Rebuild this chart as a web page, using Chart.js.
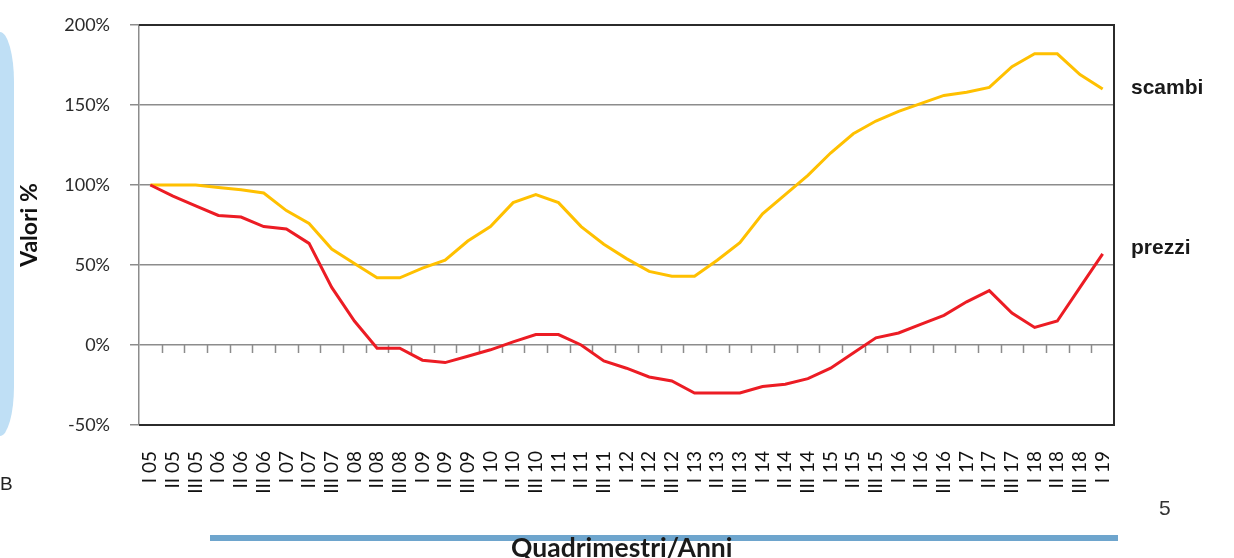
<!DOCTYPE html>
<html>
<head>
<meta charset="utf-8">
<script src="https://cdn.jsdelivr.net/npm/chart.js@4.4.1/dist/chart.umd.min.js"></script>
<style>
  html, body { margin: 0; padding: 0; background: #fff; }
  body { width: 1234px; height: 558px; position: relative; overflow: hidden; }
  #grafico { position: absolute; left: 0; top: 0; }
  .fascia { position: absolute; left: 0; top: 32px; width: 14px; height: 404px;
            background: #bfdff5; border-radius: 0 14px 14px 0 / 0 50px 50px 0; }
  .testo { position: absolute; white-space: nowrap; font-family: "Liberation Sans", Arial, sans-serif; }
  .serie { font-weight: bold; font-size: 21px; color: #1a1a1a; }
  .barra { position: absolute; left: 210px; top: 535px; width: 908px; height: 6px; background: #6ea5cd; }
  .titoloX { position: absolute; left: 511px; top: 531px; font-family: Lato, sans-serif;
             font-weight: bold; font-size: 26.5px; color: #1a1a1a; white-space: nowrap; }
</style>
</head>
<body>
<div class="fascia"></div>
<canvas id="grafico" width="1234" height="558"></canvas>
<div class="testo" style="left:0px; top:473px; font-size:19px; color:#222;">B</div>
<div class="testo serie" style="left:1131px; top:75px;">scambi</div>
<div class="testo serie" style="left:1131px; top:235px;">prezzi</div>
<div class="testo" style="left:1159px; top:496px; font-size:21px; color:#333;">5</div>
<div class="barra"></div>
<div class="titoloX">Quadrimestri/Anni</div>
<script>
const quadrimestri = [
    "I 05", "II 05", "III 05", "I 06", "II 06", "III 06", "I 07", "II 07", "III 07",
    "I 08", "II 08", "III 08", "I 09", "II 09", "III 09", "I 10", "II 10", "III 10",
    "I 11", "II 11", "III 11", "I 12", "II 12", "III 12", "I 13", "II 13", "III 13",
    "I 14", "II 14", "III 14", "I 15", "II 15", "III 15", "I 16", "II 16", "III 16",
    "I 17", "II 17", "III 17", "I 18", "II 18", "III 18", "I 19"
];

// valori in % rispetto al I quadrimestre 2005
const scambi = [
    100, 100, 100, 98.5, 97, 95, 84, 76, 60,
    51, 42, 42, 48, 53, 65, 74, 89, 94,
    89, 74, 63, 54, 46, 43, 43, 53, 64,
    82, 94, 106, 120, 132, 140, 146, 151, 156,
    158, 161, 174, 182, 182, 169, 160
];

const prezzi = [
    100, 93, 87, 81, 80, 74, 72.5, 63.5, 36,
    15, -2, -2, -9.5, -11, -7, -3, 2, 6.5,
    6.5, 0, -10, -14.5, -20, -22.5, -30, -30, -30,
    -26, -24.5, -21, -14.5, -5, 4.5, 7.5, 13, 18.5,
    27, 34, 20, 11, 15, 36, 57
];

const valoriAsseY = [-50, 0, 50, 100, 150, 200];

const coloreScambi = "#FFC000";
const colorePrezzi = "#EC1C24";

// tacche sulla linea dello zero e cornice del grafico
const tacchePlugin = {
    id: "tacche",
    beforeDatasetsDraw(chart) {
        const ctx = chart.ctx;
        const x = chart.scales.x;
        const y = chart.scales.y;
        const y0 = y.getPixelForValue(0);
        ctx.save();
        ctx.strokeStyle = "#8c8c8c";
        ctx.lineWidth = 1.5;
        ctx.beginPath();
        for (let i = 1; i < quadrimestri.length; i++) {
            const xp = (x.getPixelForValue(i - 1) + x.getPixelForValue(i)) / 2;
            ctx.moveTo(Math.round(xp) + 0.5, y0);
            ctx.lineTo(Math.round(xp) + 0.5, y0 + 8);
        }
        ctx.stroke();
        ctx.restore();
    },
    afterDraw(chart) {
        const ctx = chart.ctx;
        const a = chart.chartArea;
        ctx.save();
        ctx.strokeStyle = "#2b2b2b";
        ctx.lineWidth = 2;
        ctx.beginPath();
        ctx.moveTo(a.left, a.top);
        ctx.lineTo(a.right, a.top);
        ctx.lineTo(a.right, a.bottom);
        ctx.lineTo(a.left, a.bottom);
        ctx.stroke();
        ctx.restore();
    }
};

new Chart(document.getElementById("grafico"), {
    type: "line",
    data: {
        labels: quadrimestri,
        datasets: [
            {
                label: "prezzi",
                data: prezzi,
                borderColor: colorePrezzi,
                borderWidth: 3,
                pointRadius: 0,
                tension: 0,
                fill: false
            },
            {
                label: "scambi",
                data: scambi,
                borderColor: coloreScambi,
                borderWidth: 3,
                pointRadius: 0,
                tension: 0,
                fill: false
            }
        ]
    },
    options: {
        responsive: false,
        animation: false,
        devicePixelRatio: 1,
        layout: { padding: { left: 16, top: 25, right: 120, bottom: 0 } },
        plugins: {
            legend: { display: false },
            tooltip: { enabled: false }
        },
        scales: {
            x: {
                offset: true,
                afterFit(scale) { scale.height = 133; },
                grid: { display: false, drawTicks: false },
                border: { display: false },
                ticks: {
                    autoSkip: false,
                    maxRotation: 90,
                    minRotation: 90,
                    padding: 26,
                    color: "#111",
                    font: { family: "Lato", size: 19 }
                }
            },
            y: {
                min: -50,
                max: 200,
                afterFit(scale) {
                    scale.width = 123;
                    scale.paddingTop = 0;
                    scale.paddingBottom = 0;
                },
                afterBuildTicks(scale) {
                    scale.ticks = valoriAsseY.map(v => ({ value: v }));
                },
                grid: {
                    color: "#8c8c8c",
                    lineWidth: 1.5,
                    tickLength: 9
                },
                border: { color: "#8c8c8c", width: 1.5 },
                ticks: {
                    padding: 20,
                    color: "#2a2a2a",
                    font: { family: "Lato", size: 18 },
                    callback: v => v + "%"
                },
                title: {
                    display: true,
                    text: "Valori %",
                    color: "#111",
                    font: { family: "Lato", size: 23, weight: "bold" },
                    padding: { top: 0, bottom: 0 }
                }
            }
        }
    },
    plugins: [tacchePlugin]
});
</script>
</body>
</html>
